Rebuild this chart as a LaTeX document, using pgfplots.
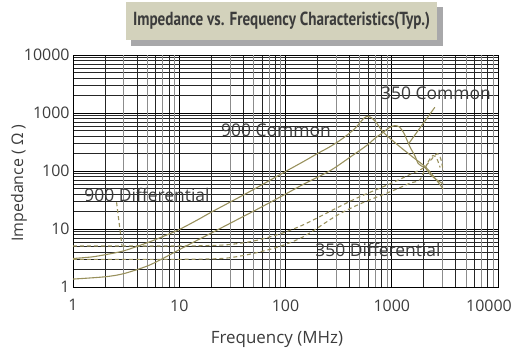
\documentclass[border=0pt]{standalone}
\usepackage{fontspec}
\setmainfont{Open Sans}
\newfontfamily\titlefont[FakeStretch=0.8]{PT Sans}
\usepackage{graphicx}
\usepackage{pgfplots}
\pgfplotsset{compat=1.18}
\definecolor{curve}{RGB}{152,144,92}
\definecolor{txt}{RGB}{60,60,60}
\definecolor{titlebg}{RGB}{211,210,188}
\definecolor{shadowc}{RGB}{168,168,170}

\pgfplotstableread{
f z
1 3.1
1.5 3.3
2 3.6
3 4.2
5 5.8
7 7.4
10 9.8
15 14.5
20 19.5
30 29
50 48
100 98
150 148
200 200
260 260
320 330
376 410
450 540
501 680
550 820
590 875
630 850
700 720
830 470
1110 292
1590 172
2100 115
2600 72
3050 49
}\ninecommon

\pgfplotstableread{
f z
1 1.37
2 1.5
3 1.7
5 2.3
7 3.1
10 4.4
15 6.5
20 8.5
30 12.5
57 23
100 40
150 60
262 101
403 172
580 275
700 370
830 464
950 560
1070 605
1180 575
1300 450
1377 356
1500 250
1648 184
1771 135
1900 122
2050 115
2282 89
2600 72
3050 60
}\tfcommon

\pgfplotstableread{
f z
1 5.1
3 5.1
10 5.1
20 5.2
30 5.4
50 6.2
88 8.2
150 12
302 23
500 36
1000 62
1500 88
1975 112
2300 150
2600 192
2750 195
2900 160
3050 100
}\ninediff

\pgfplotstableread{
f z
1 3.0
5 3.0
10 3.0
20 3.05
30 3.2
50 3.8
88 5.0
150 7.5
302 17
501 27
1000 45
1500 62
1837 70
2100 120
2300 165
2450 185
2650 165
2850 115
}\tfdiff

\begin{document}
\begin{tikzpicture}[x=1bp,y=1bp]
\path[use as bounding box] (0,0) rectangle (515,354);
\fill[shadowc] (131,308) rectangle (443,347);
\fill[titlebg] (126,314) rectangle (437,352);
\node[font=\titlefont\bfseries\fontsize{19}{22}\selectfont, text=txt] at (281.5,333) {Impedance vs. Frequency Characteristics(Typ.)};
\begin{axis}[
  at={(73bp,67bp)}, anchor=south west,
  width=425bp, height=232bp, scale only axis,
  xmode=log, ymode=log,
  xmin=1, xmax=10000, ymin=1, ymax=10000,
  xtick={1,10,100,1000,10000}, xticklabels={1,10,100,1000,\hspace*{-18bp}10000},
  ytick={1,10,100,1000,10000}, yticklabels={1,10,100,1000,10000},
  grid=both,
  major grid style={black, line width=0.6pt},
  minor grid style={black!85, line width=0.6pt},
  major tick length=0pt, minor tick length=0pt,
  extra x ticks={3,5,7,9,30,50,70,90,300,500,700,900,3000,5000,7000,9000},
  extra x tick labels={},
  extra x tick style={grid=major, major grid style={black!45, line width=0.6pt}},
  axis line style={black, line width=0.8pt},
  tick label style={font=\fontsize{16}{18}\selectfont, text=txt},
  xticklabel style={yshift=-9bp},
  clip=true,
]
\addplot[curve, line width=1.1pt, smooth] table {\ninecommon};
\addplot[curve, line width=1.1pt, smooth] table {\tfcommon};
\addplot[curve, line width=1.1pt, smooth, dash pattern=on 4pt off 3pt] table {\ninediff};
\addplot[curve, line width=1.1pt, smooth, dash pattern=on 4pt off 3pt] table {\tfdiff};
\draw[curve, line width=1.1pt] (axis cs:1450,300) -- (axis cs:2543,1254);
\draw[curve, line width=1.1pt, dash pattern=on 4pt off 3pt] (axis cs:2.57,28.9) -- (axis cs:2.89,5.15);
\end{axis}
\begin{scope}[font=\fontsize{17.5}{20}\selectfont, text=txt]
\node at (276,224) {900 Common};
\node at (436,261) {350 Common};
\node at (147,159) {900 Differential};
\node at (378,104) {350 Differential};
\end{scope}
\node[rotate=90, font=\fontsize{16}{18}\selectfont, text=txt] at (19,171) {Impedance ( Ω )};
\node[font=\fontsize{17}{20}\selectfont, text=txt] at (277,15) {Frequency (MHz)};
\end{tikzpicture}
\end{document}
